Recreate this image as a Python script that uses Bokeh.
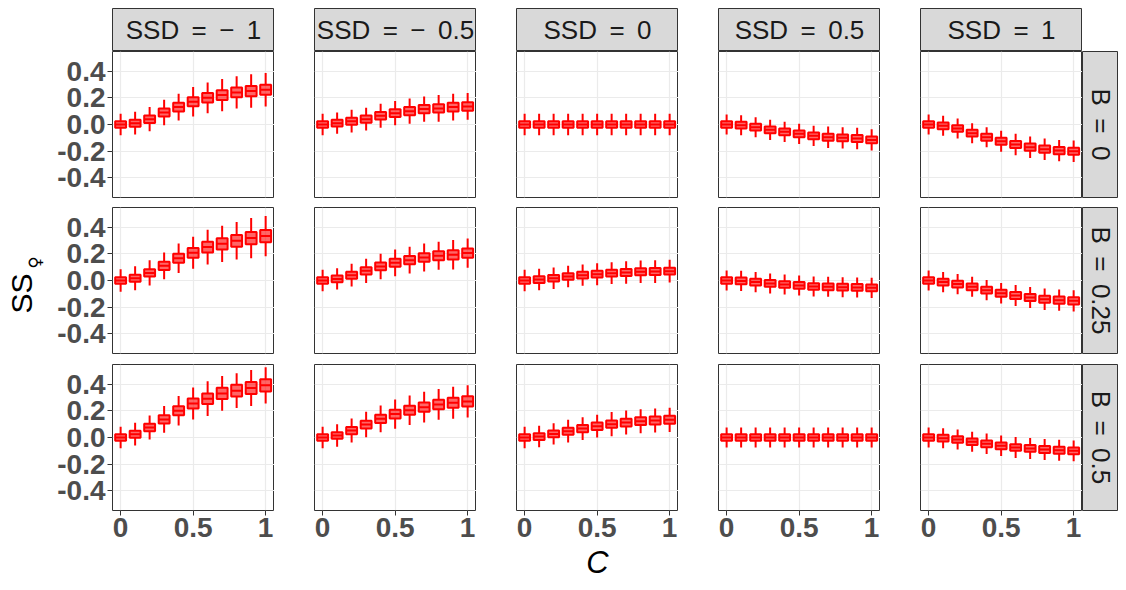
import math
from bokeh.plotting import figure
from bokeh.models import Range1d, FixedTicker, ColumnDataSource
from bokeh.layouts import row, column
from bokeh.embed import file_html
from bokeh.resources import INLINE
from bokeh.core.properties import value

# ---------------- data ----------------
C = [0.0, 0.1, 0.2, 0.3, 0.4, 0.5, 0.6, 0.7, 0.8, 0.9, 1.0]
SP = " \u2009"  # plotmath-like wider space
ssd_labels = ["SSD" + SP + "=" + SP + "\u2212" + SP + "1",
              "SSD" + SP + "=" + SP + "\u2212" + SP + "0.5",
              "SSD" + SP + "=" + SP + "0",
              "SSD" + SP + "=" + SP + "0.5",
              "SSD" + SP + "=" + SP + "1"]
b_labels = ["B" + SP + "=" + SP + "0", "B" + SP + "=" + SP + "0.25", "B" + SP + "=" + SP + "0.5"]
y_ticks = [-0.4, -0.2, 0.0, 0.2, 0.4]
y_tick_labels = ["-0.4", "-0.2", "0.0", "0.2", "0.4"]
x_ticks = [0.0, 0.5, 1.0]
x_tick_labels = ["0", "0.5", "1"]

# medians, one list per SSD column
med_b0 = [
    [0.0, 0.01, 0.04, 0.09, 0.13, 0.17, 0.20, 0.22, 0.24, 0.25, 0.26],
    [0.0, 0.01, 0.025, 0.04, 0.065, 0.085, 0.10, 0.115, 0.12, 0.13, 0.135],
    [0.0, 0.0, 0.0, 0.0, 0.0, 0.0, 0.0, 0.0, 0.0, 0.0, 0.0],
    [0.0, -0.005, -0.02, -0.04, -0.055, -0.07, -0.085, -0.095, -0.10, -0.105, -0.115],
    [0.0, -0.01, -0.03, -0.065, -0.095, -0.125, -0.15, -0.17, -0.185, -0.195, -0.20],
]
med_b025 = [
    [0.0, 0.017, 0.057, 0.11, 0.167, 0.207, 0.25, 0.274, 0.297, 0.317, 0.332],
    [0.0, 0.012, 0.04, 0.072, 0.105, 0.132, 0.152, 0.172, 0.185, 0.192, 0.205],
    [0.0, 0.007, 0.017, 0.03, 0.04, 0.047, 0.055, 0.06, 0.065, 0.067, 0.07],
    [0.0, -0.003, -0.012, -0.022, -0.03, -0.037, -0.045, -0.047, -0.05, -0.052, -0.055],
    [0.0, -0.012, -0.027, -0.047, -0.072, -0.095, -0.112, -0.127, -0.14, -0.147, -0.152],
]
med_b05 = [
    [0.0, 0.025, 0.075, 0.135, 0.20, 0.254, 0.29, 0.33, 0.35, 0.37, 0.39],
    [0.0, 0.015, 0.052, 0.097, 0.14, 0.175, 0.204, 0.227, 0.247, 0.26, 0.27],
    [0.0, 0.007, 0.027, 0.047, 0.067, 0.085, 0.10, 0.112, 0.122, 0.127, 0.132],
    [0.0, 0.0, 0.0, 0.0, 0.0, 0.0, 0.0, 0.0, 0.0, 0.0, 0.0],
    [0.0, -0.005, -0.015, -0.032, -0.047, -0.062, -0.075, -0.082, -0.09, -0.095, -0.10],
]

# whisker half-lengths
whisk_b0 = [
    [0.08, 0.085, 0.09, 0.095, 0.10, 0.11, 0.115, 0.12, 0.12, 0.125, 0.125],
    [0.08, 0.08, 0.085, 0.085, 0.09, 0.09, 0.095, 0.095, 0.10, 0.10, 0.10],
    [0.08, 0.08, 0.08, 0.08, 0.08, 0.08, 0.08, 0.08, 0.08, 0.08, 0.08],
    [0.075, 0.075, 0.075, 0.075, 0.075, 0.075, 0.075, 0.08, 0.08, 0.08, 0.08],
    [0.075, 0.075, 0.075, 0.075, 0.075, 0.078, 0.08, 0.08, 0.08, 0.08, 0.08],
]
whisk_b025 = [
    [0.085, 0.09, 0.095, 0.10, 0.11, 0.12, 0.13, 0.135, 0.14, 0.15, 0.15],
    [0.08, 0.08, 0.085, 0.09, 0.095, 0.10, 0.10, 0.105, 0.105, 0.11, 0.11],
    [0.08, 0.08, 0.08, 0.08, 0.08, 0.082, 0.082, 0.084, 0.084, 0.085, 0.085],
    [0.075, 0.075, 0.075, 0.075, 0.075, 0.075, 0.075, 0.075, 0.075, 0.075, 0.075],
    [0.075, 0.075, 0.075, 0.075, 0.076, 0.077, 0.078, 0.079, 0.08, 0.08, 0.08],
]
whisk_b05 = [
    [0.08, 0.085, 0.09, 0.10, 0.11, 0.12, 0.13, 0.13, 0.13, 0.135, 0.135],
    [0.08, 0.085, 0.09, 0.095, 0.10, 0.11, 0.11, 0.115, 0.115, 0.12, 0.12],
    [0.08, 0.08, 0.08, 0.085, 0.085, 0.085, 0.09, 0.09, 0.09, 0.09, 0.09],
    [0.075, 0.075, 0.075, 0.075, 0.075, 0.075, 0.075, 0.075, 0.075, 0.075, 0.075],
    [0.075, 0.075, 0.075, 0.075, 0.076, 0.077, 0.078, 0.078, 0.078, 0.078, 0.078],
]

# box (IQR) half-heights
box_b0 = [
    [0.025, 0.026, 0.028, 0.030, 0.032, 0.034, 0.035, 0.036, 0.037, 0.038, 0.038],
    [0.025, 0.025, 0.026, 0.027, 0.028, 0.029, 0.030, 0.030, 0.031, 0.032, 0.032],
    [0.025, 0.025, 0.025, 0.025, 0.025, 0.025, 0.025, 0.025, 0.025, 0.025, 0.025],
    [0.025, 0.025, 0.025, 0.025, 0.025, 0.025, 0.025, 0.026, 0.026, 0.026, 0.026],
    [0.025, 0.025, 0.025, 0.025, 0.026, 0.026, 0.026, 0.027, 0.027, 0.027, 0.027],
]
box_b025 = [
    [0.025, 0.026, 0.028, 0.031, 0.034, 0.037, 0.040, 0.042, 0.044, 0.045, 0.046],
    [0.025, 0.025, 0.026, 0.027, 0.029, 0.030, 0.031, 0.032, 0.033, 0.034, 0.034],
    [0.025, 0.025, 0.025, 0.025, 0.025, 0.025, 0.026, 0.026, 0.026, 0.026, 0.026],
    [0.025, 0.025, 0.025, 0.025, 0.025, 0.025, 0.025, 0.025, 0.025, 0.025, 0.025],
    [0.025, 0.025, 0.025, 0.025, 0.025, 0.026, 0.026, 0.026, 0.026, 0.027, 0.027],
]
box_b05 = [
    [0.025, 0.026, 0.028, 0.031, 0.034, 0.037, 0.040, 0.042, 0.044, 0.045, 0.046],
    [0.025, 0.025, 0.027, 0.029, 0.031, 0.032, 0.034, 0.035, 0.036, 0.037, 0.038],
    [0.025, 0.025, 0.025, 0.026, 0.027, 0.028, 0.028, 0.029, 0.029, 0.030, 0.030],
    [0.025, 0.025, 0.025, 0.025, 0.025, 0.025, 0.025, 0.025, 0.025, 0.025, 0.025],
    [0.025, 0.025, 0.025, 0.025, 0.025, 0.025, 0.025, 0.025, 0.026, 0.026, 0.026],
]

meds = [med_b0, med_b025, med_b05]
whisks = [whisk_b0, whisk_b025, whisk_b05]
boxes = [box_b0, box_b025, box_b05]

# ---------------- style ----------------
FONT = "Liberation Sans"
RED = "#ff0000"
FRAME_W, FRAME_H, STRIP_H, RSTRIP_W = 162, 146, 43, 36
GAP = 40
YLAB_W = 48
LEFT1 = 64
TOP = 8
BOT = [10, 11, 76]
BOX_W = 0.075
XR = (-0.056, 1.061)
YR = (-0.546, 0.546)


def panel(r, c):
    p = figure(
        frame_width=FRAME_W, frame_height=FRAME_H,
        x_range=Range1d(*XR), y_range=Range1d(*YR),
        output_backend="svg", toolbar_location=None,
        min_border_left=(LEFT1 if c == 0 else GAP), min_border_right=0,
        min_border_top=0, min_border_bottom=BOT[r],
        x_axis_location=("below" if r == 2 else None),
        y_axis_location=("left" if c == 0 else None),
        background_fill_color="white", border_fill_color="white",
        outline_line_color="#333333", outline_line_width=1,
    )
    p.xgrid.ticker = FixedTicker(ticks=x_ticks)
    p.ygrid.ticker = FixedTicker(ticks=y_ticks)
    for g in (p.xgrid, p.ygrid):
        g.grid_line_color = "#ebebeb"
        g.grid_line_width = 1.2
    for ax in p.xaxis + p.yaxis:
        ax.axis_line_color = None
        ax.major_tick_line_color = "#333333"
        ax.major_tick_out = 5
        ax.major_tick_in = 0
        ax.minor_tick_line_color = None
        ax.major_label_text_font = FONT
        ax.major_label_text_font_style = "bold"
        ax.major_label_text_font_size = "28px"
        ax.major_label_text_color = "#4d4d4d"
        ax.major_label_standoff = 2
    if r == 2:
        p.xaxis.ticker = FixedTicker(ticks=x_ticks)
        p.xaxis.major_label_overrides = dict(zip(x_ticks, x_tick_labels))
        if c == 2:
            p.xaxis.axis_label = "C"
            p.xaxis.axis_label_text_font = FONT
            p.xaxis.axis_label_text_font_style = "italic"
            p.xaxis.axis_label_text_font_size = "31px"
            p.xaxis.axis_label_text_color = "black"
            p.xaxis.axis_label_standoff = 5
    if c == 0:
        p.yaxis.ticker = FixedTicker(ticks=y_ticks)
        p.yaxis.major_label_overrides = dict(zip(y_ticks, y_tick_labels))

    med = meds[r][c]
    w = whisks[r][c]
    b = boxes[r][c]
    src = ColumnDataSource(dict(
        x=C,
        xl=[x - BOX_W / 2 for x in C],
        xr=[x + BOX_W / 2 for x in C],
        med=med,
        lo=[m - h for m, h in zip(med, w)],
        hi=[m + h for m, h in zip(med, w)],
        q1=[m - h for m, h in zip(med, b)],
        q3=[m + h for m, h in zip(med, b)],
    ))
    p.segment(x0="x", y0="lo", x1="x", y1="q1", source=src, line_color=RED, line_width=2)
    p.segment(x0="x", y0="q3", x1="x", y1="hi", source=src, line_color=RED, line_width=2)
    p.vbar(x="x", bottom="q1", top="q3", width=BOX_W, source=src,
           fill_color=RED, fill_alpha=0.6, line_color=RED, line_width=2)
    p.segment(x0="xl", y0="med", x1="xr", y1="med", source=src, line_color=RED, line_width=2)
    return p


def strip(text, width, height, left, top, bottom, angle):
    s = figure(
        frame_width=width, frame_height=height,
        x_range=Range1d(0, 1), y_range=Range1d(0, 1),
        output_backend="svg", toolbar_location=None,
        min_border_left=left, min_border_right=0, min_border_top=top, min_border_bottom=bottom,
        x_axis_location=None, y_axis_location=None,
        background_fill_color="#d9d9d9", border_fill_color="white",
        outline_line_color="#333333", outline_line_width=1,
    )
    s.grid.visible = False
    s.text(x=[0.5], y=[0.5], text=[text], angle=angle,
           text_align="center", text_baseline="middle",
           text_font=value(FONT), text_font_size="26px", text_color="#1a1a1a")
    return s


top = row([strip(ssd_labels[c], FRAME_W, STRIP_H, (LEFT1 if c == 0 else GAP), TOP, 0, 0) for c in range(5)])
rows = [top]
for r in range(3):
    kids = [panel(r, c) for c in range(5)]
    kids.append(strip(b_labels[r], RSTRIP_W, FRAME_H, 0, 0, BOT[r], -math.pi / 2))
    rows.append(row(kids))
grid = column(rows)

TOTAL_H = TOP + STRIP_H + FRAME_H * 3 + sum(BOT)
ylab = figure(
    width=YLAB_W, height=TOTAL_H,
    x_range=Range1d(0, YLAB_W), y_range=Range1d(TOTAL_H, 0),
    output_backend="svg", toolbar_location=None,
    min_border_left=0, min_border_right=0, min_border_top=0, min_border_bottom=0,
    x_axis_location=None, y_axis_location=None, outline_line_color=None,
)
ylab.grid.visible = False
ylab.text(x=[21], y=[293], text=["SS"], angle=math.pi / 2,
          text_align="center", text_baseline="middle",
          text_font=value(FONT), text_font_size="30px", text_color="black")
ylab.text(x=[34], y=[262], text=["\u2640"], angle=math.pi / 2,
          text_align="center", text_baseline="middle",
          text_font=value("DejaVu Sans"), text_font_size="17px", text_color="black")

layout = row(ylab, grid)
open("out.html", "w").write(file_html(layout, INLINE))
